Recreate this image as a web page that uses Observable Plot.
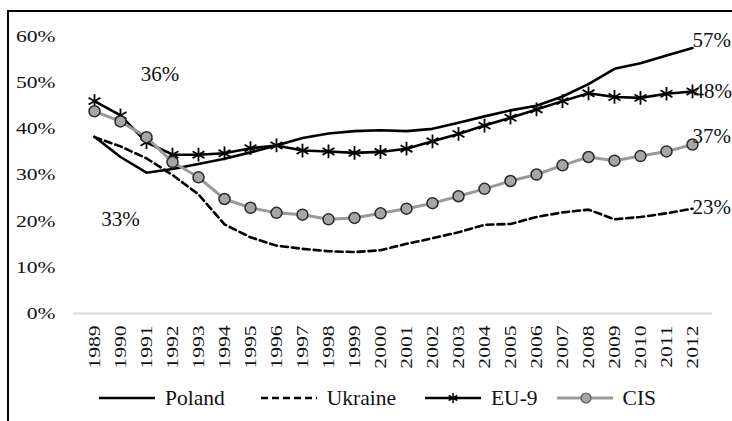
<!DOCTYPE html>
<html>
<head>
<meta charset="utf-8">
<script src="https://cdn.jsdelivr.net/npm/d3@7"></script>
<script src="https://cdn.jsdelivr.net/npm/@observablehq/plot@0.6"></script>
<style>
  html, body { margin: 0; padding: 0; background: #fff; overflow: hidden; width: 732px; height: 421px; }
  #frame { position: absolute; left: 7px; top: 10px; width: 740px; height: 420px; border-left: 2px solid #000; border-top: 2px solid #000; }
  #chart { position: absolute; left: 0; top: 0; }
  #legend { position: absolute; left: 99px; top: 386px; height: 24px; display: flex; align-items: center;
    font-family: 'Liberation Serif', 'Times New Roman', serif; font-size: 21.5px; line-height: 24px; color: #111; }
  .item { display: flex; align-items: center; gap: 10px; }
  .m0 { margin-right: 36px; }
  .m1 { margin-right: 29px; }
  .m2 { margin-right: 19px; }
</style>
</head>
<body>
<div id="frame"></div>
<div id="chart"></div>
<div id="legend"></div>
<script>
const years = ["1989","1990","1991","1992","1993","1994","1995","1996","1997","1998","1999","2000",
               "2001","2002","2003","2004","2005","2006","2007","2008","2009","2010","2011","2012"];
const poland  = [38.3, 33.9, 30.5, 31.3, 32.4, 33.5, 34.9, 36.4, 38.0, 39.0, 39.5, 39.7,
                 39.5, 40.0, 41.3, 42.7, 44.0, 45.0, 47.0, 49.7, 53.0, 54.2, 55.9, 57.5];
const ukraine = [38.2, 36.2, 33.6, 30.0, 25.8, 19.3, 16.5, 14.7, 14.0, 13.5, 13.3, 13.7,
                 15.1, 16.3, 17.6, 19.2, 19.4, 20.9, 21.9, 22.5, 20.4, 20.9, 21.7, 22.7];
const eu9     = [46.0, 42.9, 37.1, 34.4, 34.4, 34.7, 35.8, 36.4, 35.3, 35.1, 34.8, 35.0,
                 35.7, 37.3, 38.9, 40.7, 42.4, 44.2, 46.0, 47.7, 46.9, 46.7, 47.6, 48.1];
const cis     = [43.8, 41.6, 38.2, 32.8, 29.5, 24.8, 22.9, 21.8, 21.4, 20.4, 20.7, 21.7,
                 22.7, 23.9, 25.4, 27.0, 28.7, 30.1, 32.1, 33.9, 33.1, 34.1, 35.1, 36.6];
const seriesNames = ["Poland", "Ukraine", "EU-9", "CIS"];
const endLabels = ["57%", "48%", "37%", "23%"];
const yTicks = [0, 10, 20, 30, 40, 50, 60];

const rows = (vals) => years.map((y, i) => ({year: y, value: vals[i]}));
const P = rows(poland), U = rows(ukraine), E = rows(eu9), C = rows(cis);
const last = (arr) => [arr[arr.length - 1]];

const font = "'Liberation Serif', 'Times New Roman', serif";
const big = "21px";

const chart = Plot.plot({
  width: 732,
  height: 375,
  marginLeft: 73,
  marginRight: 20,
  marginTop: 36,
  marginBottom: 62,
  style: {fontFamily: font, fontSize: "17px", color: "#111", background: "transparent", overflow: "visible"},
  x: {type: "point", domain: years, padding: 0.5, label: null, tickRotate: -90, tickSize: 0, tickPadding: 12},
  y: {domain: [0, 60], ticks: yTicks, tickFormat: d => d + "%", label: null, tickSize: 0, tickPadding: 18},
  marks: [
    Plot.ruleY([0], {stroke: "#d9d9d9", strokeWidth: 2}),
    Plot.line(U, {x: "year", y: "value", stroke: "#000", strokeWidth: 2.6, strokeDasharray: "7,4"}),
    Plot.line(P, {x: "year", y: "value", stroke: "#000", strokeWidth: 2.6}),
    Plot.line(E, {x: "year", y: "value", stroke: "#000", strokeWidth: 2.6}),
    Plot.dot(E, {x: "year", y: "value", symbol: "asterisk", r: 6.5, stroke: "#000", strokeWidth: 1.8}),
    Plot.line(C, {x: "year", y: "value", stroke: "#9a9a9a", strokeWidth: 3}),
    Plot.dot(C, {x: "year", y: "value", r: 5.5, fill: "#a6a6a6", stroke: "#2a2a2a", strokeWidth: 1.5}),
    Plot.text(last(P), {x: "year", y: "value", text: () => endLabels[0], textAnchor: "start", dy: -7.6, fontSize: big, fill: "#111"}),
    Plot.text(last(E), {x: "year", y: "value", text: () => endLabels[1], textAnchor: "start", dx: 1, dy: 0, fontSize: big, fill: "#111"}),
    Plot.text(last(C), {x: "year", y: "value", text: () => endLabels[2], textAnchor: "start", dy: -8.5, fontSize: big, fill: "#111"}),
    Plot.text(last(U), {x: "year", y: "value", text: () => endLabels[3], textAnchor: "start", dy: -1.5, fontSize: big, fill: "#111"}),
    Plot.text(["36%"], {x: () => "1991", y: () => 51.9, dx: 13.6, fontSize: big, fill: "#111"}),
    Plot.text(["33%"], {x: () => "1990", y: () => 20.4, dx: 0, fontSize: big, fill: "#111"})
  ]
});

// Widen the axis tick label glyphs along their reading direction (as in the original)
const stretch = 1.27;
chart.querySelectorAll('g[aria-label="x-axis tick label"] text, g[aria-label="y-axis tick label"] text').forEach(t => {
  let tr = t.getAttribute("transform");
  if (!tr) {
    const x = +(t.getAttribute("x") || 0), y = +(t.getAttribute("y") || 0);
    t.removeAttribute("x"); t.removeAttribute("y");
    tr = `translate(${x},${y})`;
  }
  t.setAttribute("transform", `${tr} scale(${stretch},1)`);
});
document.getElementById("chart").appendChild(chart);

// Legend
const swatch = (name) => {
  const ns = "http://www.w3.org/2000/svg";
  const svg = document.createElementNS(ns, "svg");
  svg.setAttribute("width", 56); svg.setAttribute("height", 16);
  const line = document.createElementNS(ns, "line");
  line.setAttribute("x1", 0); line.setAttribute("x2", 56);
  line.setAttribute("y1", 8); line.setAttribute("y2", 8);
  line.setAttribute("stroke-width", name === "CIS" ? 3 : 2.6);
  line.setAttribute("stroke", name === "CIS" ? "#9a9a9a" : "#000");
  if (name === "Ukraine") line.setAttribute("stroke-dasharray", "7,4");
  svg.appendChild(line);
  if (name === "EU-9") {
    const g = document.createElementNS(ns, "path");
    const r = 5;
    const a = r * Math.sqrt(3) / 2;
    g.setAttribute("d", `M28,${8 - r}V${8 + r}M${28 - a},${8 - r / 2}L${28 + a},${8 + r / 2}M${28 - a},${8 + r / 2}L${28 + a},${8 - r / 2}`);
    g.setAttribute("stroke", "#000"); g.setAttribute("stroke-width", 1.5); g.setAttribute("fill", "none");
    svg.appendChild(g);
  }
  if (name === "CIS") {
    const c = document.createElementNS(ns, "circle");
    c.setAttribute("cx", 29); c.setAttribute("cy", 8); c.setAttribute("r", 5);
    c.setAttribute("fill", "#a6a6a6"); c.setAttribute("stroke", "#555"); c.setAttribute("stroke-width", 1.2);
    svg.appendChild(c);
  }
  return svg;
};
const legend = document.getElementById("legend");
seriesNames.forEach((name, i) => {
  const item = document.createElement("div");
  item.className = "item m" + i;
  item.appendChild(swatch(name));
  const t = document.createElement("span");
  t.textContent = name;
  item.appendChild(t);
  legend.appendChild(item);
});
</script>
</body>
</html>
